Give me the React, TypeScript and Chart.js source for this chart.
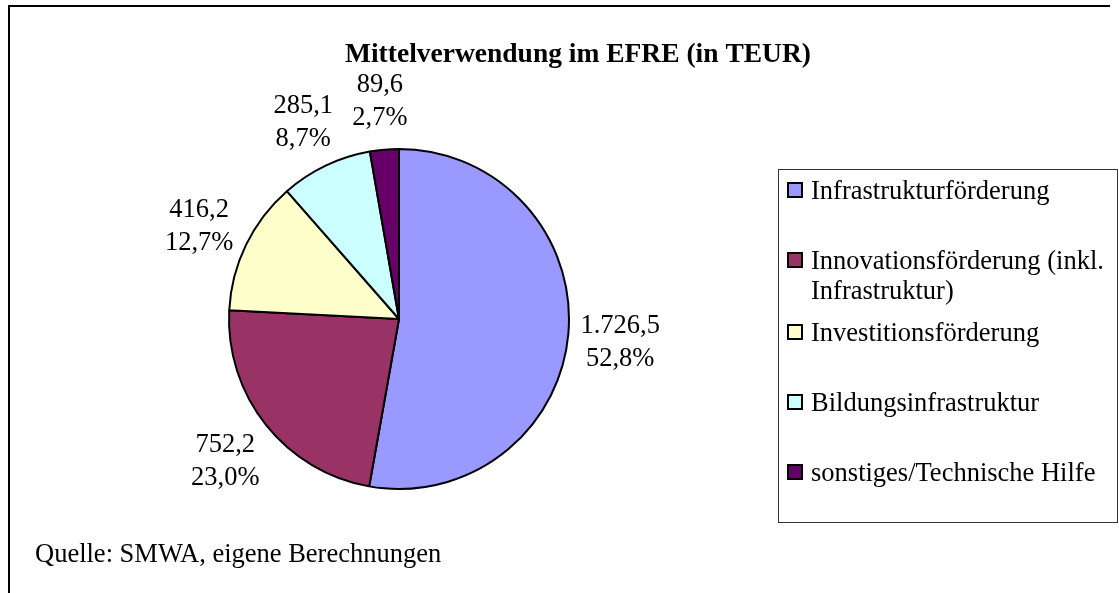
import React, { useEffect, useRef } from "react";
import { Chart, registerables } from "chart.js";

Chart.register(...registerables);

const TITLE = "Mittelverwendung im EFRE (in TEUR)";
const SOURCE = "Quelle: SMWA, eigene Berechnungen";
const categories = [
  "Infrastrukturförderung",
  "Innovationsförderung (inkl. Infrastruktur)",
  "Investitionsförderung",
  "Bildungsinfrastruktur",
  "sonstiges/Technische Hilfe",
];
const values = [1726.5, 752.2, 416.2, 285.1, 89.6];
const colors = ["#9999FF", "#993366", "#FFFFCC", "#CCFFFF", "#660066"];

const W = 1119;
const H = 593;
const SERIF = '"Liberation Serif", "Times New Roman", serif';

function fmtDe(v: number, digits: number): string {
  const [intPart, dec] = v.toFixed(digits).split(".");
  const grouped = intPart.replace(/\B(?=(\d{3})+(?!\d))/g, ".");
  return dec !== undefined ? grouped + "," + dec : grouped;
}

function wrap(ctx: CanvasRenderingContext2D, text: string, maxW: number): string[] {
  const words = text.split(" ");
  const lines: string[] = [];
  let cur = "";
  for (const w of words) {
    const test = cur ? cur + " " + w : w;
    if (ctx.measureText(test).width > maxW && cur) {
      lines.push(cur);
      cur = w;
    } else {
      cur = test;
    }
  }
  if (cur) lines.push(cur);
  return lines;
}

const overlayPlugin = {
  id: "overlay",
  afterDraw(chart: any) {
    const ctx: CanvasRenderingContext2D = chart.ctx;
    const meta = chart.getDatasetMeta(0);
    const total = values.reduce((a, b) => a + b, 0);
    ctx.save();

    // outer frame (top & left)
    ctx.strokeStyle = "#000";
    ctx.lineWidth = 2;
    ctx.beginPath();
    ctx.moveTo(9, H);
    ctx.lineTo(9, 6);
    ctx.lineTo(1110, 6);
    ctx.stroke();

    // title
    ctx.fillStyle = "#000";
    ctx.textAlign = "center";
    ctx.textBaseline = "middle";
    ctx.font = `bold 27.5px ${SERIF}`;
    ctx.fillText(TITLE, 578, 55);

    // data labels
    ctx.font = `26.5px ${SERIF}`;
    meta.data.forEach((arc: any, i: number) => {
      const p = arc.getProps(["x", "y", "startAngle", "endAngle", "outerRadius"], true);
      const mid = (p.startAngle + p.endAngle) / 2;
      const d = p.outerRadius + 52;
      const cx = p.x + Math.cos(mid) * d;
      const cy = p.y + Math.sin(mid) * d + 4;
      ctx.fillText(fmtDe(values[i], 1), cx, cy - 16.5);
      ctx.fillText(fmtDe((values[i] / total) * 100, 1) + "%", cx, cy + 16.5);
    });

    // legend box
    const bx = 778, by = 169, bw = 339, bh = 353;
    ctx.lineWidth = 1;
    ctx.strokeStyle = "#333";
    ctx.strokeRect(bx + 0.5, by + 0.5, bw, bh);

    ctx.textAlign = "left";
    ctx.font = `26.5px ${SERIF}`;
    let y = 190;
    categories.forEach((label, i) => {
      ctx.fillStyle = colors[i];
      ctx.fillRect(788, y - 7, 14, 14);
      ctx.strokeStyle = "#000";
      ctx.lineWidth = 2;
      ctx.strokeRect(788, y - 7, 14, 14);
      ctx.fillStyle = "#000";
      const lines = wrap(ctx, label, 300);
      lines.forEach((ln, j) => ctx.fillText(ln, 811, y + 2 + j * 30));
      y += 70 + (lines.length > 1 ? 2 : 0);
    });

    // source
    ctx.fillStyle = "#000";
    ctx.textAlign = "left";
    ctx.fillText(SOURCE, 35, 555);

    ctx.restore();
  },
};

export default function App() {
  const ref = useRef<HTMLCanvasElement | null>(null);

  useEffect(() => {
    if (!ref.current) return;
    const chart = new Chart(ref.current, {
      type: "pie",
      data: {
        labels: categories,
        datasets: [
          {
            data: values,
            backgroundColor: colors,
            borderColor: "#000",
            borderWidth: 2,
            hoverOffset: 0,
          },
        ],
      },
      options: {
        responsive: false,
        animation: false,
        events: [],
        layout: { padding: { left: 228, top: 148, right: 549, bottom: 103 } },
        plugins: {
          legend: { display: false },
          title: { display: false },
          tooltip: { enabled: false },
        },
      },
      plugins: [overlayPlugin],
    });
    return () => chart.destroy();
  }, []);

  return (
    <div style={{ position: "absolute", left: 0, top: 0, width: W, height: H, background: "#fff" }}>
      <canvas ref={ref} width={W} height={H} style={{ display: "block" }} />
    </div>
  );
}
